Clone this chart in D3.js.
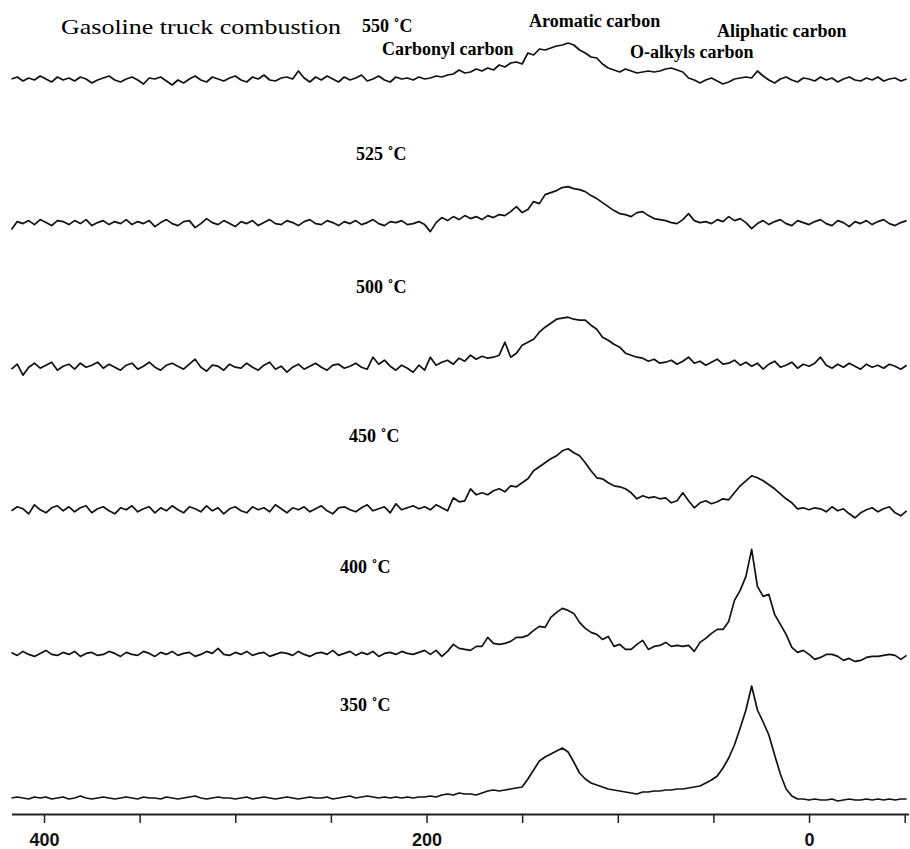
<!DOCTYPE html>
<html>
<head>
<meta charset="utf-8">
<script src="https://cdn.jsdelivr.net/npm/d3@7"></script>
<style>
  body { margin: 0; background: #fff; }
  svg { display: block; }
</style>
</head>
<body>
<div id="chart"></div>
<script>
// stacked 13C NMR spectra of gasoline truck combustion chars, one trace per temperature

var ppmGrid = d3.range(417, -52, -3);   // chemical shift of each sample, 417 ... -51 ppm

var temps = ["550", "525", "500", "450", "400", "350"];

var spec550 = [
  1, 3, -1, 2, 0, 4, 1, -2, 3, 0,
  2, -1, 3, 1, -3, 0, 2, 4, 0, -2,
  1, 3, 0, -4, 2, 1, 3, -1, -5, 0,
  -3, 1, 4, 0, -2, 3, 1, -1, 2, 4,
  0, -2, 3, 1, 5, 0, -1, 2, 3, 1,
  9, 2, -2, 3, 0, 4, 1, -2, 3, 0,
  2, 5, -1, 1, 4, 0, -2, 3, 1, 2,
  0, 3, 1, 2, 4, 3, 5, 6, 10, 7,
  8, 11, 9, 12, 10, 15, 13, 17, 18, 16,
  27, 25, 31, 30, 32, 34, 35, 37, 35, 30,
  27, 23, 22, 16, 12, 10, 8, 11, 9, 7,
  8, 9, 8, 9, 11, 12, 10, 8, 2, 0,
  -3, 0, 2, -1, -4, -2, 1, 2, 3, 2,
  9, 4, 0, -3, 1, 3, 0, -2, 2, 1,
  -1, 3, 0, 2, -2, 1, 3, 0, -1, 2,
  0, 3, -1, 1, 2, -1, 1];

var spec525 = [
  -6, 2, 0, 3, -1, 4, 1, -2, 3, 2,
  -1, 3, 0, 4, -2, 1, 3, -1, 2, 0,
  4, -1, 2, 0, 3, -3, 1, 4, 0, -2,
  2, 3, -4, 0, 5, 1, -1, 3, 0, -3,
  2, 0, 3, -2, 1, 4, 0, -1, 3, 1,
  -2, 2, 4, 0, -1, 3, 1, -2, 2, 0,
  3, -1, 1, 4, 0, -2, 2, 1, 3, -1,
  0, 2, -1, -8, 1, 6, 3, 7, 4, 8,
  5, 7, 4, 8, 6, 9, 8, 12, 17, 11,
  14, 22, 20, 29, 31, 33, 36, 37, 35, 34,
  32, 28, 25, 21, 17, 13, 10, 9, 7, 11,
  12, 8, 5, 4, 3, 1, 0, 4, 10, 3,
  1, 2, 0, 4, 2, 7, 3, 5, 1, -5,
  0, 3, -1, 2, 4, 0, -2, 3, 1, -1,
  2, 4, 0, -2, 3, 1, -3, 2, 0, 3,
  -1, 2, 4, 0, -2, 1, 3];

var spec500 = [
  -2, 3, -8, 0, 4, -1, 2, 5, -3, 1,
  3, -2, 4, 0, 2, 5, -1, 3, 0, -3,
  2, 4, -2, 1, 5, 0, -3, 2, 4, 1,
  -2, 3, 8, 0, -4, 2, 1, -3, 3, 0,
  -1, 4, 0, -3, 2, 5, -2, 1, -5, 0,
  3, -2, 1, 4, 0, -3, 2, 3, -1, 1,
  4, 0, -2, 10, 3, 7, 1, -3, 2, -1,
  -5, 2, -3, 10, 2, 5, 7, 3, 9, 6,
  12, 8, 11, 9, 10, 12, 25, 10, 14, 22,
  25, 28, 35, 40, 44, 48, 49, 50, 48, 47,
  47, 42, 38, 30, 27, 23, 20, 14, 12, 10,
  9, 6, 8, 4, 5, 7, 3, 6, 10, 4,
  6, 2, 5, 8, 3, 4, 7, 2, 5, 1,
  4, -2, 3, 6, 0, 2, 5, -1, 3, 1,
  4, 10, 2, -1, 3, 0, 4, 1, -2, 3,
  0, 2, -1, 3, 1, -2, 2];

var spec450 = [
  0, 4, 2, -3, 6, 1, -2, 3, 5, 0,
  4, -1, 3, 5, -2, 2, 4, 0, -3, 3,
  1, 5, -1, 2, 4, -2, 3, 0, 5, 1,
  -2, 4, 2, -1, 5, 0, 3, -3, 2, 4,
  0, -2, 4, 1, 3, -1, 6, 2, -2, 3,
  1, 4, -1, 2, 5, 0, -3, 3, 4, 1,
  -1, 3, 6, 0, 2, 4, -2, 7, 1, 3,
  5, 2, 4, 1, 6, 3, 0, 13, 9, 10,
  22, 16, 18, 16, 20, 22, 19, 25, 24, 28,
  32, 40, 44, 48, 52, 55, 60, 62, 58, 55,
  48, 40, 33, 32, 28, 25, 24, 22, 18, 12,
  15, 13, 14, 12, 13, 8, 10, 18, 10, 3,
  8, 10, 7, 9, 12, 11, 18, 25, 30, 35,
  33, 30, 26, 22, 17, 12, 8, 2, 3, 1,
  3, 2, -1, 4, 0, 2, -3, -7, -2, 1,
  3, -1, 2, 4, -2, -5, 0];

var spec400 = [
  2, -1, 3, 0, -2, 1, 4, 0, -1, 2,
  0, 3, -2, 1, 2, -1, 0, 3, 1, -2,
  2, 0, -1, 3, 1, -2, 2, 0, 3, -1,
  1, 2, -2, 0, 3, 1, 6, 0, -1, 2,
  0, 3, -1, 1, 2, -2, 0, 2, 1, -1,
  3, 0, -2, 1, 2, 0, 4, -1, 1, 3,
  -1, 2, 0, 3, -2, 1, 2, 0, 3, 1,
  0, 2, 4, 0, 4, -2, 3, 10, 6, 5,
  4, 8, 8, 17, 11, 10, 11, 13, 17, 17,
  19, 24, 28, 27, 37, 42, 46, 44, 41, 32,
  26, 22, 20, 15, 18, 8, 10, 5, 5, 10,
  14, 5, 8, 9, 12, 8, 9, 8, 9, 3,
  12, 16, 21, 25, 25, 33, 54, 64, 78, 105,
  68, 58, 60, 40, 30, 20, 7, 2, 4, 0,
  -5, -3, 0, 0, -2, -6, -4, -7, -6, -3,
  -2, -2, -1, 0, -1, -5, -1];

var spec350 = [
  0, 1, 0, -1, 1, 0, 1, -1, 0, 1,
  -1, 0, 2, 0, -1, 0, 1, 0, -1, 0,
  1, 0, -1, 1, 0, 0, -1, 1, 0, -1,
  0, 1, 2, 0, -1, 0, 1, 0, 0, -1,
  0, 1, -1, 0, 1, 0, -1, 0, 1, 0,
  -1, 0, 1, 0, 0, 1, -1, 0, 1, 2,
  0, 1, 2, 1, 0, 1, 0, 1, 0, 1,
  0, 1, 1, 2, 1, 3, 4, 3, 5, 4,
  4, 3, 5, 7, 8, 7, 8, 9, 10, 11,
  19, 28, 37, 41, 44, 47, 50, 46, 36, 25,
  19, 15, 13, 11, 9, 8, 7, 6, 5, 4,
  6, 6, 7, 7, 8, 8, 9, 9, 10, 11,
  12, 15, 18, 22, 30, 40, 53, 70, 88, 112,
  88, 76, 63, 43, 24, 9, 2, -1, -1, -2,
  -1, -2, -2, -1, -3, -2, -1, -2, -2, -1,
  -2, -1, -2, -1, -2, -1, -1];

var spectra = [spec550, spec525, spec500, spec450, spec400, spec350];

var tickVals = [400, 350, 300, 250, 200, 150, 100, 50, 0, -50],
    tickLabelled = [400, 200, 0];

var peakNames = ["Carbonyl carbon", "Aromatic carbon", "O-alkyls carbon", "Aliphatic carbon"];

// layout
var width = 910, height = 849, axisY = 814,
    tempLabelX = [362, 356, 356, 349, 340, 340],
    tempLabelUp = [48, 64, 74, 69, 81, 87],
    peakLabelPos = [[382, 55], [529, 27], [630, 58], [717, 37]];

var svg = d3.select("#chart").append("svg")
    .attr("width", width)
    .attr("height", height);

var x = d3.scaleLinear().domain([417, -52]).range([11.5, 908.5]);
var amp = d3.scaleLinear().domain([0, 100]).range([0, 100]);
var base = d3.scaleLinear().domain([0, temps.length - 1]).range([80, 798]);

var line = d3.line()
    .x((d, i) => x(ppmGrid[i]))
    .y(d => d);

spectra.forEach(function(s, k){
  var y0 = base(k);
  svg.append("path")
     .datum(s.map(v => y0 - amp(v)))
     .attr("d", line)
     .attr("fill", "none")
     .attr("stroke", "#111")
     .attr("stroke-width", 1.7)
     .attr("stroke-linejoin", "round");

  svg.append("text")
     .attr("x", tempLabelX[k])
     .attr("y", y0 - tempLabelUp[k])
     .style("font-family", "'Liberation Serif', 'Times New Roman', serif")
     .style("font-weight", "bold")
     .style("font-size", "18px")
     .text(temps[k] + " \u02DAC");
});

svg.append("text")
   .attr("x", 61)
   .attr("y", 34)
   .attr("textLength", 280)
   .attr("lengthAdjust", "spacingAndGlyphs")
   .style("font-family", "'Liberation Serif', 'Times New Roman', serif")
   .style("font-size", "22px")
   .text("Gasoline truck combustion");

svg.selectAll("text.peak")
   .data(peakNames)
   .join("text")
   .attr("class", "peak")
   .attr("x", (d, i) => peakLabelPos[i][0])
   .attr("y", (d, i) => peakLabelPos[i][1])
   .style("font-family", "'Liberation Serif', 'Times New Roman', serif")
   .style("font-weight", "bold")
   .style("font-size", "18px")
   .text(d => d);

var xAxis = d3.axisBottom(x)
    .tickValues(tickVals)
    .tickSize(9)
    .tickSizeOuter(0)
    .tickPadding(10)
    .tickFormat(d => tickLabelled.indexOf(d) >= 0 ? d : "");

var gx = svg.append("g")
    .attr("transform", "translate(0," + axisY + ")")
    .call(xAxis);
gx.select(".domain").attr("stroke-width", 2).attr("stroke", "#222");
gx.selectAll(".tick line").attr("stroke-width", 1.5).attr("stroke", "#222");
gx.selectAll(".tick text")
   .style("font-family", "'Liberation Sans', Arial, sans-serif")
   .style("font-weight", "bold")
   .style("font-size", "18px")
   .attr("fill", "#111");
</script>
</body>
</html>
